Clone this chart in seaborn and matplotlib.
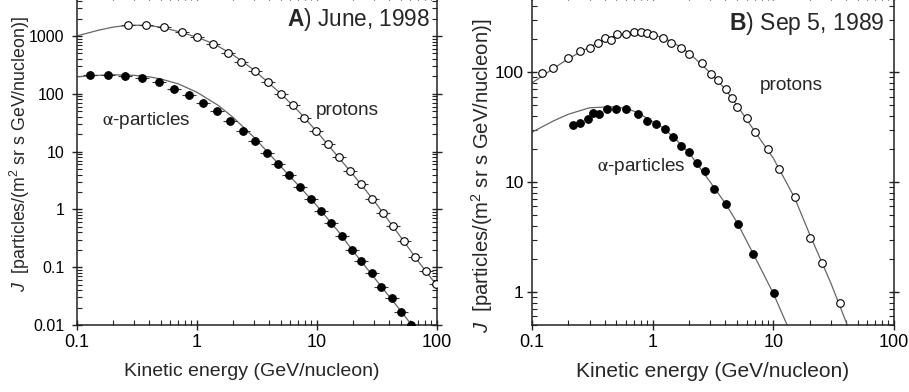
import numpy as np
import pandas as pd
import seaborn as sns
import matplotlib
matplotlib.use("Agg")
import matplotlib.pyplot as plt
from matplotlib.ticker import LogLocator, FuncFormatter, NullFormatter

# ---------------- Panel A: June 1998 ----------------
a_proton_E = [0.265, 0.376, 0.534, 0.746, 1.006, 1.367, 1.80, 2.34, 3.06, 3.88, 4.98, 6.27,
              7.84, 9.81, 12.3, 15.2, 18.8, 23.3, 28.7, 35.3, 43.2, 53.4, 65.6, 80.5, 98.7]
a_proton_J = [1549, 1549, 1429, 1186, 961, 728, 515, 360, 246, 161, 98.9, 62.8,
              38.6, 22.7, 13.7, 7.97, 4.65, 2.73, 1.53, 0.863, 0.509, 0.284, 0.150, 0.0863, 0.0503]

a_alpha_E = [0.128, 0.182, 0.253, 0.350, 0.479, 0.643, 0.862, 1.122, 1.468, 1.895, 2.40, 3.04,
             3.81, 4.73, 5.84, 7.21, 8.86, 10.8, 13.2, 16.1, 19.5, 23.4, 28.6, 34.4, 41.9, 50.4, 60.7]
a_alpha_J = [207, 215, 204, 187, 157, 120, 93.5, 69.9, 50.3, 33.8, 23.0, 15.1,
             9.5, 6.04, 3.90, 2.42, 1.51, 0.95, 0.59, 0.347, 0.202, 0.127, 0.0778, 0.0447, 0.0289, 0.0170, 0.0100]

a_proton_fit_E = [0.1, 0.15, 0.2, 0.27, 0.37, 0.5, 0.7, 1.0, 1.4, 2.0, 3.0, 5.0, 7.0,
                  10, 15, 20, 30, 50, 70, 100]
a_proton_fit_J = [1000, 1250, 1420, 1530, 1530, 1420, 1190, 950, 720, 470, 255, 100, 50,
                  22, 8.1, 4.0, 1.4, 0.33, 0.125, 0.048]

a_alpha_fit_E = [0.1, 0.15, 0.2, 0.3, 0.4, 0.5, 0.7, 1.0, 1.5, 2.0, 3.0, 5.0, 7.0,
                 10, 15, 20, 30, 50, 62]
a_alpha_fit_J = [196, 208, 213, 208, 196, 180, 148, 106, 63, 39, 17.5, 5.5, 2.6,
                 1.15, 0.42, 0.19, 0.066, 0.0175, 0.0098]

# ---------------- Panel B: Sep 5, 1989 ----------------
b_proton_E = [0.120, 0.150, 0.200, 0.250, 0.302, 0.352, 0.403, 0.451, 0.503, 0.601, 0.704,
              0.805, 0.902, 1.006, 1.21, 1.42, 1.72, 2.01, 2.54, 3.02, 3.51, 4.05, 4.53,
              5.02, 6.04, 7.08, 9.07, 11.07, 15.2, 20.3, 25.4, 35.4]
b_proton_J = [98.9, 110, 136, 155, 168, 183, 204, 198, 224, 225, 232,
              235, 226, 217, 204, 185, 168, 148, 121, 96.9, 85.1, 70.5, 58.7,
              47.9, 38.0, 28.6, 20.1, 13.1, 7.25, 3.09, 1.85, 0.793]

b_alpha_E = [0.217, 0.251, 0.291, 0.320, 0.360, 0.422, 0.499, 0.601, 0.751, 0.905, 1.059,
             1.26, 1.48, 1.73, 2.00, 2.31, 2.70, 3.22, 4.03, 5.14, 6.74, 10.08]
b_alpha_J = [33.0, 34.7, 37.8, 42.9, 41.3, 46.2, 45.9, 45.9, 42.0, 36.1, 33.5,
             30.4, 25.5, 21.5, 18.7, 14.8, 12.7, 8.67, 6.32, 4.18, 2.21, 0.973]

b_proton_fit_E = [0.1, 0.15, 0.2, 0.3, 0.4, 0.5, 0.7, 0.9, 1.2, 1.5, 2, 3, 4, 5, 7, 10, 15, 20, 30, 41]
b_proton_fit_J = [80, 108, 133, 170, 198, 216, 229, 226, 208, 185, 150, 99, 70, 50, 29, 16.5, 7.2, 3.35, 1.2, 0.5]

b_alpha_fit_E = [0.1, 0.15, 0.2, 0.3, 0.45, 0.6, 0.75, 0.9, 1.2, 1.5, 2, 3, 4, 5, 7, 10, 13]
b_alpha_fit_J = [28.5, 36, 41.5, 47.5, 48.5, 47, 43, 38, 31.5, 25.5, 18.5, 10.0, 6.4, 4.3, 2.1, 0.97, 0.5]

x_ticks = [0.1, 1, 10, 100]
a_y_ticks = [0.01, 0.1, 1, 10, 100, 1000]
b_y_ticks = [1, 10, 100]

# half width of the energy bins (in decades) shown as horizontal error bars
BIN_HALF_DEX = 0.058

sns.set_theme(style="ticks")
plt.rcParams["font.family"] = ["Liberation Sans", "DejaVu Sans"]
plt.rcParams.update({
    "mathtext.fontset": "custom",
    "mathtext.rm": "Liberation Sans",
    "mathtext.it": "Liberation Sans:italic",
    "mathtext.bf": "Liberation Sans:bold",
})

INK = "#222222"
FIT = "#666666"

fig = plt.figure(figsize=(9.09, 3.92), dpi=100)
axA = fig.add_axes([0.0847, 0.1709, 0.3960, 0.8406])
axB = fig.add_axes([0.5853, 0.1709, 0.3982, 0.8406])


def draw_panel(ax, fits, opens, filled, xerr):
    ax.set_xscale("log")
    ax.set_yscale("log")
    for E, J in fits:
        df = pd.DataFrame({"E": E, "J": J})
        sns.lineplot(data=df, x="E", y="J", ax=ax, color=FIT, lw=0.9,
                     estimator=None, sort=False, legend=False, zorder=2)
    for (E, J), face in ((opens, "white"), (filled, "black")):
        E = np.asarray(E)
        J = np.asarray(J)
        if xerr:
            lo = E - E / 10 ** BIN_HALF_DEX
            hi = E * 10 ** BIN_HALF_DEX - E
            ax.errorbar(E, J, xerr=[lo, hi], fmt="none", ecolor="#333333",
                        elinewidth=0.8, capsize=0, zorder=3)
        sns.scatterplot(x=E, y=J, ax=ax, marker="o", s=30, color=face,
                        edgecolor="black", linewidth=0.8, legend=False, zorder=4)


def style_axes(ax, ylim, yticks, xtick_size, ytick_size, ypad):
    ax.set_xlim(0.1, 100)
    ax.set_ylim(*ylim)
    fmt = FuncFormatter(lambda v, p: f"{v:g}")
    ax.set_xticks(x_ticks)
    ax.xaxis.set_minor_locator(LogLocator(base=10, subs=np.arange(2, 10), numticks=100))
    ax.set_yticks(yticks)
    ax.yaxis.set_minor_locator(LogLocator(base=10, subs=np.arange(2, 10), numticks=100))
    ax.xaxis.set_major_formatter(fmt)
    ax.yaxis.set_major_formatter(fmt)
    ax.xaxis.set_minor_formatter(NullFormatter())
    ax.yaxis.set_minor_formatter(NullFormatter())
    ax.tick_params(which="major", direction="inout", length=7, width=1.0, color=INK,
                   top=True, right=True, labelcolor="black")
    ax.tick_params(which="minor", direction="in", length=3.5, width=0.8, color=INK,
                   top=True, right=True)
    ax.tick_params(axis="x", which="major", pad=3, labelsize=xtick_size)
    ax.tick_params(axis="y", which="major", pad=ypad, labelsize=ytick_size)
    for sp in ax.spines.values():
        sp.set_visible(True)
        sp.set_linewidth(1.1)
        sp.set_color(INK)
    ax.set_xlabel("")
    ax.set_ylabel("")


draw_panel(axA, [(a_proton_fit_E, a_proton_fit_J), (a_alpha_fit_E, a_alpha_fit_J)],
           (a_proton_E, a_proton_J), (a_alpha_E, a_alpha_J), xerr=True)
draw_panel(axB, [(b_proton_fit_E, b_proton_fit_J), (b_alpha_fit_E, b_alpha_fit_J)],
           (b_proton_E, b_proton_J), (b_alpha_E, b_alpha_J), xerr=False)

style_axes(axA, (0.01, 5000), a_y_ticks, 13, 11.5, 5.5)
style_axes(axB, (0.5, 500), b_y_ticks, 13, 12.5, 2.5)

ylabel = r"$J$  [particles/(m$^{2}$ sr s GeV/nucleon)]"
xlabel = "Kinetic energy (GeV/nucleon)"

# Panel A labels
axA.set_xlabel(xlabel, fontsize=14, va="center")
axA.xaxis.set_label_coords(0.486, -0.14)
axA.set_ylabel(ylabel, fontsize=12.8, va="center")
axA.yaxis.set_label_coords(-0.158, 0.519)
axA.text(0.981, 0.926, r"$\mathbf{A}$) June, 1998", transform=axA.transAxes,
         ha="right", va="center", fontsize=16.3)
axA.text(0.664, 0.652, "protons", transform=axA.transAxes,
         ha="left", va="center", fontsize=13.7)
axA.text(0.069, 0.622, r"$\mathrm{\alpha}$-particles", transform=axA.transAxes,
         ha="left", va="center", fontsize=13.7, math_fontfamily="stix")

# Panel B labels
axB.set_xlabel(xlabel, fontsize=15, va="center")
axB.xaxis.set_label_coords(0.5, -0.14)
axB.set_ylabel(ylabel, fontsize=14.6, va="center")
axB.yaxis.set_label_coords(-0.138, 0.452)
axB.text(0.975, 0.9135, r"$\mathbf{B}$) Sep 5, 1989", transform=axB.transAxes,
         ha="right", va="center", fontsize=16.6)
axB.text(0.630, 0.728, "protons", transform=axB.transAxes,
         ha="left", va="center", fontsize=13.7)
axB.text(0.179, 0.48, r"$\mathrm{\alpha}$-particles", transform=axB.transAxes,
         ha="left", va="center", fontsize=13.7, math_fontfamily="stix")

fig.savefig("out.png", dpi=100)
